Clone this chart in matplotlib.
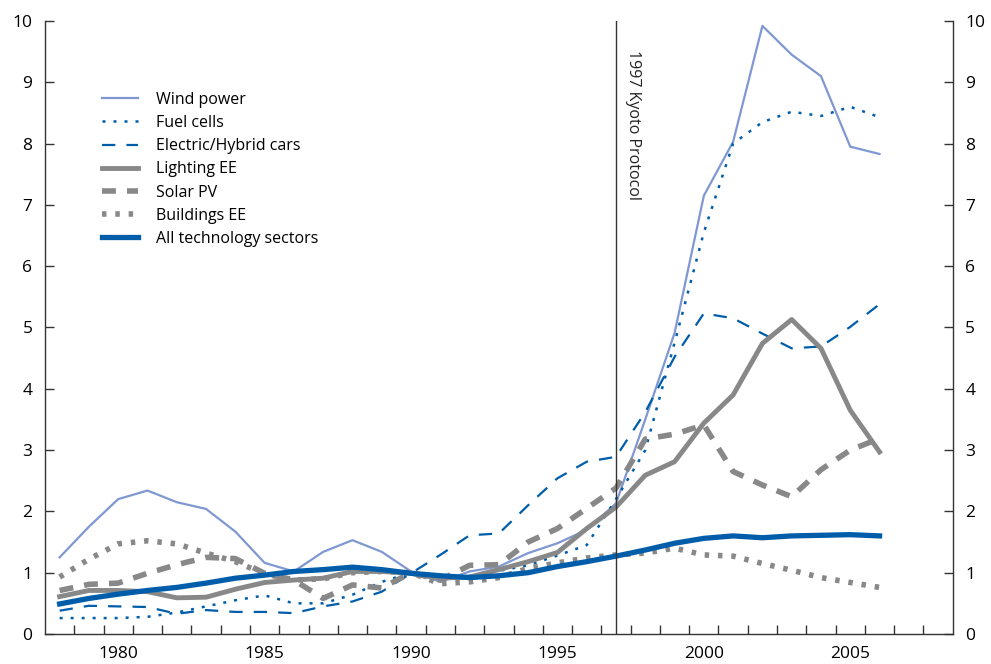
import matplotlib
matplotlib.use("Agg")
import matplotlib.pyplot as plt
from matplotlib.ticker import MultipleLocator, FixedLocator

plt.rcParams['font.family'] = ['Open Sans', 'DejaVu Sans']

years = list(range(1978, 2007))

wind = [1.25, 1.75, 2.2, 2.34, 2.15, 2.04, 1.67, 1.16, 1.02, 1.34, 1.53, 1.34, 1.02, 0.85,
        1.02, 1.10, 1.32, 1.48, 1.7, 2.13, 3.5, 4.91, 7.15, 8.03, 9.92, 9.45, 9.10, 7.95, 7.83]
fuel = [0.26, 0.26, 0.26, 0.28, 0.35, 0.45, 0.55, 0.63, 0.5, 0.5, 0.64, 0.85, 1.0, 0.93,
        0.95, 1.03, 1.12, 1.28, 1.45, 2.2, 3.0, 4.75, 6.55, 8.0, 8.35, 8.52, 8.45, 8.6, 8.43]
electric = [0.38, 0.46, 0.45, 0.44, 0.33, 0.39, 0.36, 0.36, 0.34, 0.45, 0.53, 0.69, 0.99, 1.29,
            1.61, 1.64, 2.1, 2.54, 2.81, 2.89, 3.62, 4.52, 5.23, 5.15, 4.9, 4.66, 4.69, 5.01, 5.38]
lighting = [0.61, 0.71, 0.71, 0.69, 0.59, 0.6, 0.73, 0.84, 0.88, 0.91, 1.02, 1.02, 0.99, 0.91,
            0.93, 1.05, 1.18, 1.33, 1.72, 2.07, 2.59, 2.81, 3.44, 3.9, 4.74, 5.13, 4.66, 3.65, 2.97]
solar = [0.71, 0.81, 0.83, 0.99, 1.13, 1.25, 1.23, 0.99, 0.88, 0.58, 0.8, 0.75, 1.0, 0.88,
         1.12, 1.13, 1.5, 1.72, 2.05, 2.38, 3.18, 3.26, 3.41, 2.65, 2.43, 2.24, 2.68, 3.0, 3.19]
buildings = [0.93, 1.22, 1.47, 1.52, 1.47, 1.32, 1.18, 0.98, 0.88, 0.9, 1.0, 1.02, 1.0, 0.82,
             0.85, 0.92, 1.07, 1.16, 1.24, 1.29, 1.32, 1.4, 1.29, 1.27, 1.15, 1.04, 0.92, 0.84, 0.76]
alltech = [0.49, 0.58, 0.65, 0.71, 0.76, 0.83, 0.91, 0.96, 1.02, 1.05, 1.09, 1.05, 0.99, 0.95,
           0.92, 0.95, 1.0, 1.1, 1.18, 1.27, 1.37, 1.48, 1.56, 1.6, 1.57, 1.6, 1.61, 1.62, 1.6]

light_blue = '#7f98d2'
blue = '#005daa'
gray = '#888888'

fig = plt.figure(figsize=(9.91, 6.64), dpi=100)
ax = fig.add_axes([0.0454, 0.0452, 0.9160, 0.9232])

ax.plot(years, wind, color=light_blue, lw=1.6, label='Wind power')
ax.plot(years, fuel, color=blue, lw=1.8, ls=(0, (1.2, 3.2)), label='Fuel cells')
ax.plot(years, electric, color=blue, lw=1.6, ls=(0, (6, 5)), label='Electric/Hybrid cars')
ax.plot(years, lighting, color=gray, lw=3.5, label='Lighting EE')
ax.plot(years, solar, color=gray, lw=4, ls=(0, (2.5, 2)), label='Solar PV')
ax.plot(years, buildings, color=gray, lw=4, ls=(0, (0.8, 1.6)), label='Buildings EE')
ax.plot(years, alltech, color=blue, lw=3.8, label='All technology sectors')

ax.axvline(1997, color='#333333', lw=1)
ax.text(1997.3, 9.52, '1997 Kyoto Protocol', rotation=270, ha='left', va='top',
        fontsize=11.5, color='#222222')

ax.set_xlim(1977.5, 2008.5)
ax.set_ylim(0, 10)

ax.xaxis.set_major_locator(FixedLocator([1980, 1985, 1990, 1995, 2000, 2005]))
ax.xaxis.set_minor_locator(FixedLocator([y + 0.5 for y in range(1978, 2008)]))
ax.yaxis.set_major_locator(MultipleLocator(1))

ax.tick_params(axis='x', which='major', length=0, pad=9, labelsize=12.5)
ax.tick_params(axis='x', which='minor', direction='in', length=6.5, width=1, color='#333333')
ax.tick_params(axis='y', which='major', direction='in', length=6.5, width=1, color='#333333',
               labelsize=12.5, pad=9, left=True, right=True, labelleft=True, labelright=True)

for s in ['left', 'right', 'bottom']:
    ax.spines[s].set_color('#333333')
    ax.spines[s].set_linewidth(1)
ax.spines['top'].set_visible(False)

leg = ax.legend(loc='upper left', bbox_to_anchor=(0.047, 0.908), frameon=False, fontsize=11.5,
                handlelength=2.25, handletextpad=1.1, labelspacing=0.45)

fig.savefig('out.png', dpi=100)
